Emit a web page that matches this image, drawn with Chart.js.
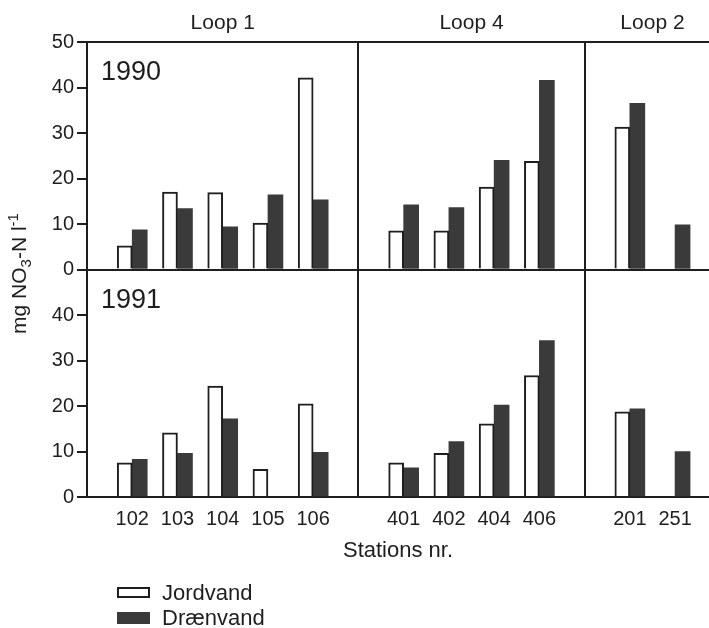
<!DOCTYPE html>
<html lang="da">
<head>
<meta charset="UTF-8">
<title>NO3-N i jordvand og drænvand</title>
<script src="https://cdn.jsdelivr.net/npm/chart.js"></script>
<style>
  body { margin: 0; background: #fff; }
  #wrap { width: 709px; height: 628px; }
</style>
</head>
<body>
<div id="wrap"><canvas id="nitratChart" width="709" height="628"></canvas></div>
<script>
// stations grouped by loop, in the order they are plotted
var loops = ['Loop 1', 'Loop 4', 'Loop 2'];
var loopStations = [
    ['102', '103', '104', '105', '106'],
    ['401', '402', '404', '406'],
    ['201', '251']
];
var years = ['1990', '1991'];
var seriesNames = ['Jordvand', 'Drænvand'];

// mg NO3-N per litre, same order as the stations above (null = no bar)
var jordvand1990  = [5.2, 17.0, 16.9, 10.2, 42.1, 8.5, 8.5, 18.1, 23.8, 31.3, null];
var draenvand1990 = [8.7, 13.4, 9.4, 16.4, 15.3, 14.2, 13.6, 24.0, 41.6, 36.5, 9.8];
var jordvand1991  = [7.5, 14.1, 24.4, 6.1, 20.5, 7.5, 9.6, 16.1, 26.7, 18.7, null];
var draenvand1991 = [8.3, 9.6, 17.2, null, 9.8, 6.4, 12.2, 20.2, 34.4, 19.4, 10.0];

var yTicks = [0, 10, 20, 30, 40, 50];

var ink = '#1e1e1e';
var darkFill = '#3a3a3a';
var fontFamily = '"Liberation Sans", Arial, Helvetica, sans-serif';

// one empty slot in front of every loop (that's where the divider line goes)
var slots = [];
var stationSlot = [];
var loopSpan = [];
loopStations.forEach(function (list) {
    var start = slots.length;
    slots.push('');
    list.forEach(function (s) {
        stationSlot.push(slots.length);
        slots.push(s);
    });
    loopSpan.push([start, start + list.length + 1]);
});

function points(values) {
    return values.map(function (v, i) { return { x: stationSlot[i], y: v }; });
}

function bars(label, values, axis, filled) {
    return {
        label: label,
        data: points(values),
        yAxisID: axis,
        stack: filled ? 'draen' : 'jord',
        backgroundColor: filled ? darkFill : '#ffffff',
        borderColor: filled ? darkFill : ink,
        borderWidth: filled ? 0 : 2,
        barThickness: 15
    };
}

function yAxis(year, weight, showTop) {
    return {
        type: 'linear',
        position: 'left',
        stack: 'panels',
        stackWeight: 1,
        weight: weight,
        stacked: false,
        min: 0,
        max: 50,
        afterBuildTicks: function (scale) {
            scale.ticks = yTicks.filter(function (v) { return showTop || v < 50; })
                .map(function (v) { return { value: v }; });
        },
        afterFit: function (scale) { scale.width = 87; },
        ticks: { autoSkip: false, color: ink, padding: 3, font: { size: 20 } },
        grid: {
            lineWidth: 2,
            tickLength: 10,
            tickWidth: 2,
            tickColor: ink,
            color: function (c) {
                if (!c.tick) return 'transparent';
                return (c.tick.value === 0 || c.tick.value === 50) ? ink : 'transparent';
            }
        },
        border: { display: true, color: ink, width: 2 }
    };
}

// loop names, year names, y title with sub/superscript, legend
var extras = {
    id: 'extras',
    afterDraw: function (chart) {
        var ctx = chart.ctx;
        var xs = chart.scales.x;
        ctx.save();
        ctx.fillStyle = ink;
        ctx.textBaseline = 'alphabetic';

        ctx.font = '21px ' + fontFamily;
        ctx.textAlign = 'center';
        loops.forEach(function (name, i) {
            var mid = (loopSpan[i][0] + loopSpan[i][1]) / 2;
            ctx.fillText(name, xs.getPixelForValue(mid), 29);
        });

        ctx.font = '27px ' + fontFamily;
        ctx.textAlign = 'left';
        years.forEach(function (yr) {
            var sc = chart.scales['y' + yr];
            ctx.fillText(yr, 101, sc.top + 38);
        });

        // y axis title: mg NO3-N l-1
        var big = '21px ' + fontFamily, small = '15px ' + fontFamily;
        var parts = [
            { t: 'mg NO', f: big, dy: 0 },
            { t: '3', f: small, dy: 5 },
            { t: '-N l', f: big, dy: 0 },
            { t: '-1', f: small, dy: -8 }
        ];
        var total = 0;
        parts.forEach(function (p) { ctx.font = p.f; p.w = ctx.measureText(p.t).width; total += p.w; });
        var area = chart.chartArea;
        ctx.translate(26, (area.top + area.bottom) / 2 + 4);
        ctx.rotate(-Math.PI / 2);
        var px = -total / 2;
        parts.forEach(function (p) {
            ctx.font = p.f;
            ctx.fillText(p.t, px, p.dy);
            px += p.w;
        });
        ctx.setTransform(1, 0, 0, 1, 0, 0);

        // legend
        ctx.font = '22px ' + fontFamily;
        seriesNames.forEach(function (name, i) {
            var top = 587 + i * 25;
            if (i === 0) {
                ctx.fillStyle = '#ffffff';
                ctx.fillRect(117, top, 33, 11);
                ctx.strokeStyle = ink;
                ctx.lineWidth = 2;
                ctx.strokeRect(118, top + 1, 31, 9);
            } else {
                ctx.fillStyle = darkFill;
                ctx.fillRect(117, top, 33, 12);
            }
            ctx.fillStyle = ink;
            ctx.fillText(name, 162, top + 13);
        });
        ctx.restore();
    }
};

Chart.defaults.font.family = fontFamily;

var ctx = document.getElementById('nitratChart').getContext('2d');
var nitratChart = new Chart(ctx, {
    type: 'bar',
    data: {
        datasets: [
            bars(seriesNames[0] + ' 1990', jordvand1990, 'y1990', false),
            bars(seriesNames[1] + ' 1990', draenvand1990, 'y1990', true),
            bars(seriesNames[0] + ' 1991', jordvand1991, 'y1991', false),
            bars(seriesNames[1] + ' 1991', draenvand1991, 'y1991', true)
        ]
    },
    options: {
        responsive: false,
        animation: false,
        devicePixelRatio: 1,
        layout: { padding: { top: 42, left: 0, right: 0, bottom: 61 } },
        plugins: {
            legend: { display: false },
            tooltip: { enabled: false }
        },
        scales: {
            x: {
                type: 'linear',
                offset: false,
                min: 0,
                max: 13.75,
                afterBuildTicks: function (scale) {
                    scale.ticks = slots.map(function (s, i) { return { value: i }; });
                },
                afterFit: function (scale) { scale.height = 70; },
                ticks: {
                    autoSkip: false,
                    maxRotation: 0,
                    padding: 10,
                    color: ink,
                    font: { size: 20 },
                    callback: function (v) { return slots[v] || ''; }
                },
                grid: {
                    offset: false,
                    drawTicks: false,
                    lineWidth: 2,
                    color: function (c) {
                        if (!c.tick) return 'transparent';
                        return (c.tick.value > 0 && slots[c.tick.value] === '') ? ink : 'transparent';
                    }
                },
                border: { display: true, color: ink, width: 2 },
                title: {
                    display: true,
                    text: 'Stations nr.',
                    color: ink,
                    font: { size: 22 },
                    padding: { top: 0, bottom: 3 }
                }
            },
            y1991: yAxis('1991', 1, false),
            y1990: yAxis('1990', 2, true)
        }
    },
    plugins: [extras]
});
</script>
</body>
</html>
